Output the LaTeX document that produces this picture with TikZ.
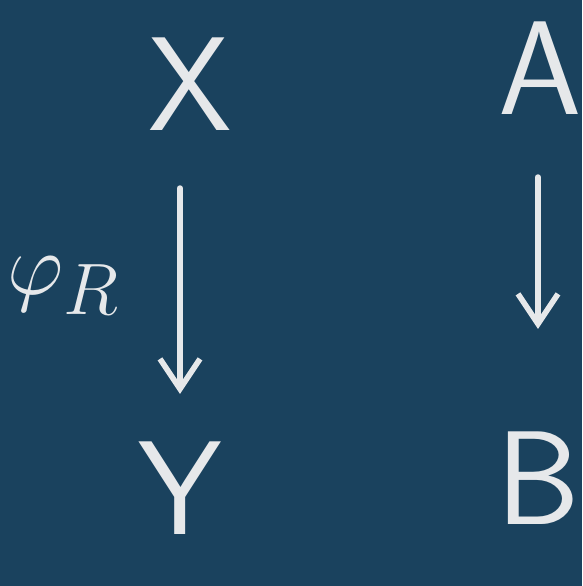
\documentclass[tikz,border=0pt]{standalone}
\usepackage{amsmath,amssymb}
\usepackage{xcolor}
\usepackage{tikz}
\usetikzlibrary{arrows.meta,positioning}
\definecolor{bbBoard}{HTML}{1A425E}
\definecolor{bbChalk}{HTML}{E6E8EA}
\tikzset{
  bb diagram/.style={font=\sffamily, text=bbChalk,
    line cap=round, line join=round},
  bb obj/.style={font=\fontsize{38}{44}\selectfont\sffamily, inner sep=2pt},
  bb arrow/.style={-{Straight Barb[length=3mm,width=4mm]}, draw=bbChalk,
    line width=1.6pt},
  bb label/.style={font=\fontsize{28}{34}\selectfont, text=bbChalk}
}
\begin{document}
\begin{tikzpicture}[bb diagram]
\fill[bbBoard] (0,0) rectangle (5.82,5.86);
\useasboundingbox (0,0) rectangle (5.82,5.86);
\node[bb obj] (X) at (1.9,5.02) {X};
\node[bb obj] (A) at (5.4,5.18) {A};
\node[bb obj] (Y) at (1.8,0.98) {Y};
\node[bb obj] (B) at (5.38,1.08) {B};
\draw[bb arrow, shorten <=0.5cm, shorten >=0.4cm] (Y|-X.south) -- (Y.north)
  node[bb label, midway, left=0.45cm] (phi) {$\varphi_R$};
\draw[bb arrow, shorten <=0.55cm, shorten >=0.95cm] (B|-A.south) -- (B.north);
\end{tikzpicture}
\end{document}
